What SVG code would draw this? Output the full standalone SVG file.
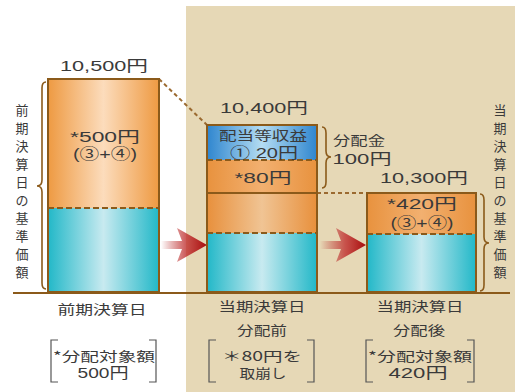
<svg xmlns="http://www.w3.org/2000/svg" width="515" height="392" viewBox="0 0 515 392">
<defs>
<linearGradient id="gOr" x1="0" y1="0" x2="1" y2="0"><stop offset="0" stop-color="#ee9a42"/><stop offset="0.5" stop-color="#fcdcbc"/><stop offset="1" stop-color="#ee9a42"/></linearGradient>
<linearGradient id="gOr2" x1="0" y1="0" x2="1" y2="0"><stop offset="0" stop-color="#e8903c"/><stop offset="0.5" stop-color="#f0c494"/><stop offset="1" stop-color="#e8903c"/></linearGradient>
<linearGradient id="gOr3" x1="0" y1="0" x2="1" y2="0"><stop offset="0" stop-color="#e8923e"/><stop offset="0.5" stop-color="#f2b070"/><stop offset="1" stop-color="#e8923e"/></linearGradient>
<linearGradient id="gTe" x1="0" y1="0" x2="1" y2="0"><stop offset="0" stop-color="#22b8c8"/><stop offset="0.5" stop-color="#c8eaf0"/><stop offset="1" stop-color="#22b8c8"/></linearGradient>
<linearGradient id="gBl" x1="0" y1="0" x2="1" y2="0"><stop offset="0" stop-color="#2f86cf"/><stop offset="0.5" stop-color="#b4dcf2"/><stop offset="1" stop-color="#2f86cf"/></linearGradient>
<linearGradient id="gAr" x1="0" y1="0" x2="1" y2="0"><stop offset="0" stop-color="#b01818" stop-opacity="0"/><stop offset="0.55" stop-color="#c03030" stop-opacity="0.8"/><stop offset="1" stop-color="#a80c0c"/></linearGradient>
</defs>
<style>
.t{font-family:"Liberation Sans","Noto Sans CJK JP",sans-serif;fill:#3a3a3a;font-size:15px;text-anchor:middle;dominant-baseline:central}
.j{font-family:"Noto Sans CJK JP",sans-serif;fill:#3a3a3a;font-size:13px;text-anchor:middle;dominant-baseline:central}
.bd{fill:none;stroke:#8b5a1a;stroke-width:2}
.dv{stroke:#8b5a1a;stroke-width:2;stroke-dasharray:6 3}
.br{fill:none;stroke:#8b5a1a;stroke-width:1.6}
.bk{fill:none;stroke:#555;stroke-width:1.2}
.cn{fill:none;stroke:#9b6a30;stroke-width:2;stroke-dasharray:4 3}
</style>
<rect x="0" y="0" width="515" height="392" fill="#ffffff"/>
<rect x="186" y="6" width="329" height="386" fill="#e6d8b6"/>

<g id="connectors">
<line class="cn" x1="159" y1="79" x2="207" y2="125"/>
<line class="cn" x1="317" y1="193" x2="367" y2="193"/>
<path d="M161,241 L182,241 L177,228 L207,245 L177,262 L182,249 L161,249 Z" fill="url(#gAr)"/>
<path d="M320,241 L341,241 L336,228 L366,245 L336,262 L341,249 L320,249 Z" fill="url(#gAr)"/>
</g>

<g id="bar-prev">
<rect x="48" y="79" width="111" height="129" fill="url(#gOr)"/>
<rect x="48" y="208" width="111" height="84" fill="url(#gTe)"/>
<line class="dv" x1="48" y1="208" x2="159" y2="208"/>
<rect class="bd" x="48" y="79" width="111" height="213"/>
<text class="t" x="104" y="65" textLength="88" lengthAdjust="spacingAndGlyphs">10,500円</text>
<text class="t" x="105" y="136" textLength="70" lengthAdjust="spacingAndGlyphs">*500円</text>
<text class="t" x="105" y="153" textLength="64" lengthAdjust="spacingAndGlyphs" font-size="13">(③+④)</text>
</g>

<g id="bar-before">
<rect x="207" y="125" width="110" height="35" fill="url(#gBl)"/>
<rect x="207" y="160" width="110" height="33" fill="url(#gOr3)"/>
<rect x="207" y="193" width="110" height="40" fill="url(#gOr2)"/>
<rect x="207" y="233" width="110" height="59" fill="url(#gTe)"/>
<line class="dv" x1="207" y1="160" x2="317" y2="160"/>
<line stroke="#8b5a1a" stroke-width="2" x1="207" y1="193" x2="317" y2="193"/>
<line class="dv" x1="207" y1="233" x2="317" y2="233"/>
<rect class="bd" x="207" y="125" width="110" height="167"/>
<text class="t" x="264" y="107" textLength="88" lengthAdjust="spacingAndGlyphs">10,400円</text>
<text class="j" x="263" y="134" font-size="11" textLength="88" lengthAdjust="spacingAndGlyphs">配当等収益</text>
<text class="t" x="264" y="152" font-size="12" textLength="68" lengthAdjust="spacingAndGlyphs">① 20円</text>
<text class="t" x="263" y="177" textLength="57" lengthAdjust="spacingAndGlyphs">*80円</text>
</g>

<g id="bar-after">
<rect x="367" y="193" width="109" height="41" fill="url(#gOr3)"/>
<rect x="367" y="234" width="109" height="58" fill="url(#gTe)"/>
<line class="dv" x1="367" y1="234" x2="476" y2="234"/>
<rect class="bd" x="367" y="193" width="109" height="99"/>
<text class="t" x="424" y="177" textLength="88" lengthAdjust="spacingAndGlyphs">10,300円</text>
<text class="t" x="422" y="203" textLength="70" lengthAdjust="spacingAndGlyphs">*420円</text>
<text class="t" x="422" y="222" font-size="13" textLength="63" lengthAdjust="spacingAndGlyphs">(③+④)</text>
</g>

<g id="baseline">
<line x1="13" y1="293" x2="510" y2="293" stroke="#8b5a1a" stroke-width="2"/>
</g>

<g id="brace-prev">
<path class="br" d="M46,82 Q42,82 42,88 L42,180 Q42,186 37,186 Q42,186 42,192 L42,283 Q42,289 46,289"/>
<text class="j" font-size="14"><tspan x="22" y="109">前</tspan><tspan x="22" y="127">期</tspan><tspan x="22" y="145">決</tspan><tspan x="22" y="163">算</tspan><tspan x="22" y="181">日</tspan><tspan x="22" y="199">の</tspan><tspan x="22" y="217">基</tspan><tspan x="22" y="235">準</tspan><tspan x="22" y="253">価</tspan><tspan x="22" y="271">額</tspan></text>
</g>

<g id="brace-dist">
<path class="br" d="M322,127 Q326,127 326,133 L326,151 Q326,157 331,157 Q326,157 326,163 L326,182 Q326,188 322,188"/>
<text class="j" x="359" y="139" font-size="12" textLength="52" lengthAdjust="spacingAndGlyphs">分配金</text>
<text class="t" x="362" y="158" font-size="13" textLength="59" lengthAdjust="spacingAndGlyphs">100円</text>
</g>

<g id="brace-cur">
<path class="br" d="M480,194 Q484,194 484,200 L484,237 Q484,243 489,243 Q484,243 484,249 L484,285 Q484,291 480,291"/>
<text class="j" font-size="14"><tspan x="500" y="109">当</tspan><tspan x="500" y="127">期</tspan><tspan x="500" y="145">決</tspan><tspan x="500" y="163">算</tspan><tspan x="500" y="181">日</tspan><tspan x="500" y="199">の</tspan><tspan x="500" y="217">基</tspan><tspan x="500" y="235">準</tspan><tspan x="500" y="253">価</tspan><tspan x="500" y="271">額</tspan></text>
</g>

<g id="label-prev">
<text class="j" x="102" y="308" textLength="89" lengthAdjust="spacingAndGlyphs">前期決算日</text>
<path class="bk" d="M58,340 L51,340 L51,382 L58,382 M149,340 L156,340 L156,382 L149,382"/>
<text class="j" x="104" y="355" textLength="102" lengthAdjust="spacingAndGlyphs">*分配対象額</text>
<text class="t" x="103" y="372" font-size="14" textLength="51" lengthAdjust="spacingAndGlyphs">500円</text>
</g>

<g id="label-before">
<text class="j" x="262" y="305" textLength="87" lengthAdjust="spacingAndGlyphs">当期決算日</text>
<text class="j" x="262" y="329" textLength="50" lengthAdjust="spacingAndGlyphs">分配前</text>
<path class="bk" d="M216,340 L209,340 L209,382 L216,382 M307,340 L314,340 L314,382 L307,382"/>
<text class="j" x="262" y="355" textLength="80" lengthAdjust="spacingAndGlyphs">＊80円を</text>
<text class="j" x="263" y="372" textLength="47" lengthAdjust="spacingAndGlyphs">取崩し</text>
</g>

<g id="label-after">
<text class="j" x="420" y="305" textLength="87" lengthAdjust="spacingAndGlyphs">当期決算日</text>
<text class="j" x="419" y="329" textLength="52" lengthAdjust="spacingAndGlyphs">分配後</text>
<path class="bk" d="M373,340 L366,340 L366,382 L373,382 M467,340 L474,340 L474,382 L467,382"/>
<text class="j" x="420" y="355" textLength="104" lengthAdjust="spacingAndGlyphs">*分配対象額</text>
<text class="t" x="418" y="372" font-size="14" textLength="59" lengthAdjust="spacingAndGlyphs">420円</text>
</g>
</svg>
